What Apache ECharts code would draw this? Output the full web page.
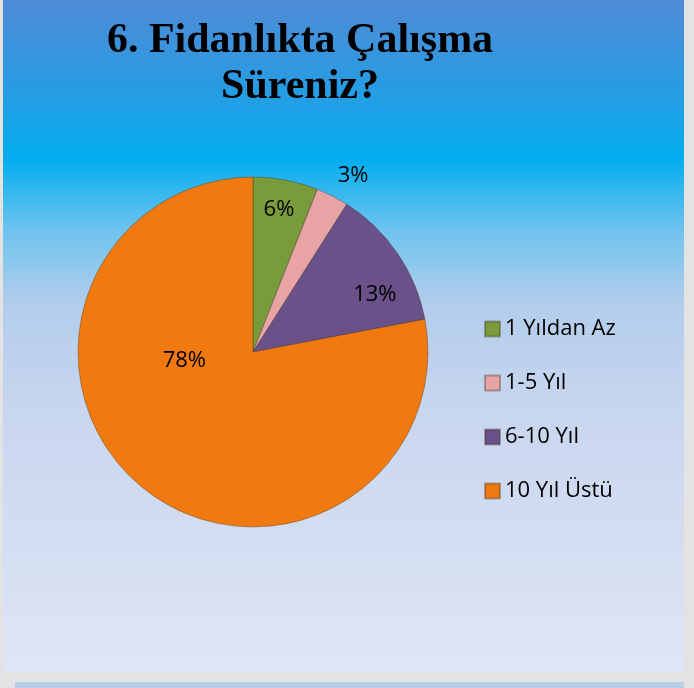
<!DOCTYPE html>
<html>
<head>
<meta charset="utf-8">
<script src="https://cdn.jsdelivr.net/npm/echarts@6/dist/echarts.min.js"></script>
<style>
  html, body { margin: 0; padding: 0; background: #e3e3e3; }
  .frame { position: absolute; left: 3px; top: 0; width: 681px; height: 672px; }
  .strip { position: absolute; left: 15px; top: 682px; width: 669px; height: 6px; background: #b9cde5; }
</style>
</head>
<body>
<div id="chart" class="frame"></div>
<div class="strip"></div>
<script>
// anket sonuclari (yuzde)
const categories = ['1 Yıldan Az', '1-5 Yıl', '6-10 Yıl', '10 Yıl Üstü'];
const values = [6, 3, 13, 78];
const titleLines = ['6. Fidanlıkta Çalışma', 'Süreniz?'];

// stil: dilim renkleri ve etiket kaydirmalari
const colors = ['#7a9b3c', '#e8a4a4', '#6a5189', '#f17a10'];
const labelOffsets = [[9, -53], [59, -96], [47, -6], [-11, -61]];

function buildData() {
  return categories.map((name, i) => ({
    name: name,
    value: values[i],
    itemStyle: { color: colors[i] },
    label: { offset: labelOffsets[i] }
  }));
}

const chart = echarts.init(document.getElementById('chart'), null, { renderer: 'canvas' });

const option = {
  animation: false,
  backgroundColor: new echarts.graphic.LinearGradient(0, 0, 0, 1, [
    { offset: 0, color: '#508ad6' },
    { offset: 0.18, color: '#18a3e8' },
    { offset: 0.235, color: '#02adef' },
    { offset: 0.34, color: '#6cc3ee' },
    { offset: 0.45, color: '#b2cdec' },
    { offset: 0.6, color: '#c7d5ee' },
    { offset: 1, color: '#dfe6f5' }
  ]),
  title: {
    text: titleLines.join('\n'),
    left: 292,
    top: 13,
    textAlign: 'center',
    textStyle: {
      fontFamily: 'Liberation Serif',
      fontWeight: 'bold',
      fontSize: 42,
      lineHeight: 46,
      color: '#000'
    }
  },
  legend: {
    orient: 'vertical',
    left: 476,
    top: 313,
    itemWidth: 15,
    itemHeight: 15,
    itemGap: 32,
    icon: 'rect',
    textStyle: {
      fontFamily: 'Open Sans',
      fontSize: 22,
      color: '#000'
    },
    data: categories
  },
  series: [
    {
      name: '',
      type: 'pie',
      center: [250, 352],
      radius: 175,
      startAngle: 90,
      clockwise: true,
      silent: true,
      itemStyle: {
        borderColor: 'rgba(60, 40, 20, 0.35)',
        borderWidth: 1
      },
      label: {
        show: true,
        position: 'inside',
        formatter: '{c}%',
        fontFamily: 'Open Sans',
        fontSize: 22,
        color: '#000'
      },
      labelLine: { show: false },
      data: buildData()
    }
  ]
};

chart.setOption(option);
</script>
</body>
</html>
